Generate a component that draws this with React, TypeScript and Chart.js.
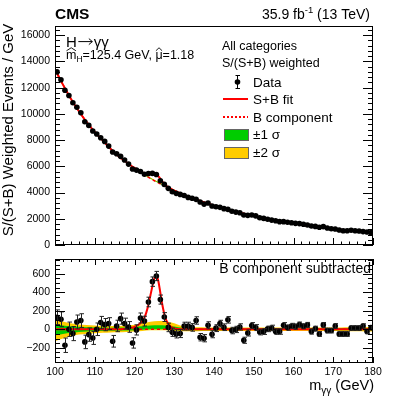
import React, { useEffect, useRef } from "react";
import { Chart, registerables } from "chart.js";
Chart.register(...registerables);

const FONT = '"Liberation Sans", Arial, Helvetica, sans-serif';
const RED = "#ff0000";
const GREEN = "#00cc00";
const YELLOW = "#ffcc00";

// ---------- data ----------
const massBins = [
  100.5, 101.5, 102.5, 103.5, 104.5, 105.5, 106.5, 107.5, 108.5, 109.5,
  110.5, 111.5, 112.5, 113.5, 114.5, 115.5, 116.5, 117.5, 118.5, 119.5,
  120.5, 121.5, 122.5, 123.5, 124.5, 125.5, 126.5, 127.5, 128.5, 129.5,
  130.5, 131.5, 132.5, 133.5, 134.5, 135.5, 136.5, 137.5, 138.5, 139.5,
  140.5, 141.5, 142.5, 143.5, 144.5, 145.5, 146.5, 147.5, 148.5, 149.5,
  150.5, 151.5, 152.5, 153.5, 154.5, 155.5, 156.5, 157.5, 158.5, 159.5,
  160.5, 161.5, 162.5, 163.5, 164.5, 165.5, 166.5, 167.5, 168.5, 169.5,
  170.5, 171.5, 172.5, 173.5, 174.5, 175.5, 176.5, 177.5, 178.5, 179.5,
];

const weightedEvents = [
  13200, 12600, 11800, 11400, 10850, 10500, 10080, 9400, 9120, 8690,
  8460, 8180, 7900, 7540, 7090, 6960, 6760, 6480, 6170, 5790,
  5710, 5600, 5390, 5450, 5460, 5380, 4900, 4620, 4320, 4060,
  3940, 3860, 3780, 3630, 3560, 3480, 3280, 3120, 3200, 2970,
  2920, 2870, 2770, 2720, 2570, 2510, 2460, 2290, 2260, 2290,
  2220, 2080, 2030, 1960, 1900, 1850, 1780, 1780, 1730, 1700,
  1650, 1630, 1580, 1520, 1450, 1420, 1350, 1400, 1300, 1240,
  1220, 1140, 1090, 1090, 1120, 1090, 1070, 1020, 990, 940,
];

const bkgSubtracted = [
  130, 108, -173, 0, -47, 79, 94, -137, -58, -94,
  0, 72, 50, 61, -130, 36, 115, 61, 25, -148,
  -7, 122, 88, 295, 515, 576, 321, 132, 20, -32,
  -50, -47, 34, 34, 20, 95, -86, -97, 43, -54,
  12, 61, 22, 102, -14, -2, 25, -119, -40, 40,
  18, -30, -25, 4, 14, -25, -25, 43, 18, 36,
  29, 50, 32, 47, -25, 7, -51, 47, -14, -14,
  36, -51, -51, -51, 14, 14, 14, 36, -25, 18,
];

const statErrors = [
  80, 80, 78, 78, 76, 75, 74, 73, 72, 70,
  68, 67, 66, 64, 63, 62, 60, 59, 58, 56,
  55, 54, 53, 52, 51, 50, 49, 48, 46, 45,
  44, 43, 42, 42, 41, 40, 40, 39, 38, 38,
  37, 36, 36, 35, 35, 34, 34, 33, 33, 32,
  32, 31, 31, 30, 30, 30, 29, 29, 29, 28,
  28, 28, 27, 27, 27, 26, 26, 26, 26, 25,
  25, 25, 25, 24, 24, 24, 24, 23, 23, 23,
];

const fitX = [
  100, 102, 104, 106, 108, 110, 112, 114, 116, 117, 118, 119, 120, 121, 122,
  122.5, 123, 123.5, 124, 124.5, 125, 125.5, 126, 126.5, 127, 127.5, 128,
  129, 130, 131, 132, 134, 136, 138, 140, 142, 144, 146, 148, 150, 152, 154,
  156, 158, 160, 162, 164, 166, 168, 170, 172, 174, 176, 178, 180,
];
const bkgFit = [
  13400, 12230, 11150, 10200, 9360, 8620, 7980, 7330, 6760, 6530, 6300, 6070, 5850, 5640, 5440,
  5345, 5250, 5160, 5070, 4985, 4900, 4815, 4735, 4655, 4575, 4500, 4425,
  4280, 4140, 4010, 3880, 3640, 3410, 3200, 3000, 2820, 2650, 2490, 2350, 2210, 2080, 1930,
  1840, 1735, 1645, 1565, 1480, 1410, 1330, 1240, 1170, 1120, 1065, 1005, 945,
];

const signalX = [
  116, 117, 118, 119, 120, 121, 122, 122.5, 123, 123.5, 124, 124.5, 125, 125.5,
  126, 126.5, 127, 127.5, 128, 129, 130, 131, 132,
];
const signalFit = [
  0, 2, 5, 12, 25, 48, 90, 125, 185, 265, 365, 465, 550, 585,
  520, 395, 265, 165, 95, 32, 10, 3, 0,
];

const bandX = [
  100, 102, 104, 106, 108, 110, 112, 114, 116, 118, 120, 122, 124, 126, 128, 130, 132,
  134, 136, 138, 140, 142, 144, 146, 148, 150, 152, 154, 156, 158, 160, 162, 164, 166,
  168, 170, 172, 174, 176, 178, 180,
];
const band2Up = [
  110, 85, 65, 52, 45, 40, 37, 35, 36, 40, 50, 65, 80, 88, 85, 65, 35,
  25, 22, 20, 20, 19, 18, 18, 18, 18, 18, 18, 18, 18, 18, 18, 18, 18,
  19, 19, 20, 21, 22, 23, 25,
];
const band2Down = [
  -130, -100, -75, -58, -48, -42, -38, -35, -33, -30, -25, -18, -12, -10, -12, -18, -22,
  -22, -21, -20, -20, -19, -18, -18, -18, -18, -18, -18, -18, -18, -18, -18, -18, -18,
  -19, -19, -20, -21, -22, -23, -25,
];
const band1Up = [
  55, 42, 32, 26, 22, 20, 18, 17, 18, 20, 26, 33, 40, 44, 42, 30, 17,
  12, 11, 10, 10, 10, 9, 9, 9, 9, 9, 9, 9, 9, 9, 9, 9, 9,
  10, 10, 10, 11, 11, 12, 13,
];
const band1Down = [
  -65, -50, -38, -29, -24, -21, -19, -17, -16, -14, -10, -5, -1, 0, -2, -8, -11,
  -11, -10, -10, -10, -10, -9, -9, -9, -9, -9, -9, -9, -9, -9, -9, -9, -9,
  -10, -10, -10, -11, -11, -12, -13,
];

const topYTicks = [0, 2000, 4000, 6000, 8000, 10000, 12000, 14000, 16000];
const bottomYTicks = [-200, 0, 200, 400, 600];
const xTicks = [100, 110, 120, 130, 140, 150, 160, 170, 180];

// ---------- helpers ----------
const signalAt = (x: number) => {
  const i = signalX.indexOf(x);
  return i >= 0 ? signalFit[i] : 0;
};
const bkgAt = (x: number) => bkgFit[fitX.indexOf(x)];

type Part = { t: string; size: number; dy?: number; bold?: boolean; hat?: boolean; arrow?: number };
function drawRich(ctx: CanvasRenderingContext2D, parts: Part[], x: number, y: number, align: "left" | "right") {
  const widths = parts.map((p) => {
    if (p.arrow) return p.arrow;
    ctx.font = `${p.bold ? "bold " : ""}${p.size}px ${FONT}`;
    return ctx.measureText(p.t).width;
  });
  const total = widths.reduce((a, b) => a + b, 0);
  let cx = align === "right" ? x - total : x;
  ctx.textAlign = "left";
  ctx.textBaseline = "alphabetic";
  parts.forEach((p, i) => {
    const yy = y + (p.dy || 0);
    if (p.arrow) {
      const ay = yy - p.size * 0.36;
      ctx.save();
      ctx.strokeStyle = "#000";
      ctx.lineWidth = 1;
      ctx.beginPath();
      ctx.moveTo(cx + 1.5, ay);
      ctx.lineTo(cx + p.arrow - 1.5, ay);
      ctx.moveTo(cx + p.arrow - 5, ay - 3);
      ctx.lineTo(cx + p.arrow - 1.5, ay);
      ctx.lineTo(cx + p.arrow - 5, ay + 3);
      ctx.stroke();
      ctx.restore();
      cx += widths[i];
      return;
    }
    ctx.font = `${p.bold ? "bold " : ""}${p.size}px ${FONT}`;
    ctx.fillText(p.t, cx, yy);
    if (p.hat) {
      const w = widths[i];
      ctx.save();
      ctx.lineWidth = 0.9;
      ctx.strokeStyle = "#000";
      ctx.beginPath();
      ctx.moveTo(cx + 0.5, yy - p.size * 0.66);
      ctx.lineTo(cx + w / 2, yy - p.size * 0.9);
      ctx.lineTo(cx + w - 0.5, yy - p.size * 0.66);
      ctx.stroke();
      ctx.restore();
    }
    cx += widths[i];
  });
}

type FrameCfg = {
  yMinor: number; yMajor: number; yMajLen: number; yMinLen: number;
  xMinor: number; xMajor: number; xMajLen: number; xMinLen: number; topTicks: boolean;
};
function framePlugin(cfg: FrameCfg) {
  return {
    id: "frameTicks",
    afterDraw(chart: any) {
      const { ctx, chartArea: a, scales } = chart;
      const xs = scales.x;
      const ys = scales.y;
      ctx.save();
      ctx.strokeStyle = "#000";
      ctx.lineWidth = 1;
      ctx.strokeRect(a.left + 0.5, a.top + 0.5, a.right - a.left - 1, a.bottom - a.top - 1);
      ctx.beginPath();
      const nx = Math.round((xs.max - xs.min) / cfg.xMinor);
      for (let k = 0; k <= nx; k++) {
        const v = xs.min + k * cfg.xMinor;
        const major = Math.abs(v / cfg.xMajor - Math.round(v / cfg.xMajor)) < 1e-6;
        const px = Math.round(xs.getPixelForValue(v)) + 0.5;
        const L = major ? cfg.xMajLen : cfg.xMinLen;
        ctx.moveTo(px, a.bottom);
        ctx.lineTo(px, a.bottom - L);
        if (cfg.topTicks) {
          ctx.moveTo(px, a.top);
          ctx.lineTo(px, a.top + L);
        }
      }
      const start = Math.ceil(ys.min / cfg.yMinor - 1e-9);
      const end = Math.floor(ys.max / cfg.yMinor + 1e-9);
      for (let k = start; k <= end; k++) {
        const v = k * cfg.yMinor;
        const major = Math.abs(v / cfg.yMajor - Math.round(v / cfg.yMajor)) < 1e-6;
        const py = Math.round(ys.getPixelForValue(v)) + 0.5;
        const L = major ? cfg.yMajLen : cfg.yMinLen;
        ctx.moveTo(a.left, py);
        ctx.lineTo(a.left + L, py);
        ctx.moveTo(a.right, py);
        ctx.lineTo(a.right - L, py);
      }
      ctx.stroke();
      ctx.restore();
    },
  };
}

function errorBarPlugin(values: number[], errors: number[]) {
  return {
    id: "errorBars",
    afterDatasetsDraw(chart: any) {
      const { ctx, chartArea: a, scales } = chart;
      ctx.save();
      ctx.beginPath();
      ctx.rect(a.left, a.top, a.right - a.left, a.bottom - a.top);
      ctx.clip();
      ctx.strokeStyle = "#222";
      ctx.lineWidth = 1;
      ctx.beginPath();
      massBins.forEach((m, i) => {
        const px = Math.round(scales.x.getPixelForValue(m)) + 0.5;
        const y1 = scales.y.getPixelForValue(values[i] - errors[i]);
        const y2 = scales.y.getPixelForValue(values[i] + errors[i]);
        ctx.moveTo(px, y1);
        ctx.lineTo(px, y2);
        ctx.moveTo(px - 2, y1);
        ctx.lineTo(px + 2.5, y1);
        ctx.moveTo(px - 2, y2);
        ctx.lineTo(px + 2.5, y2);
      });
      ctx.stroke();
      ctx.restore();
    },
  };
}

const topTextPlugin = {
  id: "topText",
  afterDraw(chart: any) {
    const ctx: CanvasRenderingContext2D = chart.ctx;
    ctx.save();
    ctx.fillStyle = "#000";
    drawRich(ctx, [{ t: "CMS", size: 15.5, bold: true }], 55, 19, "left");
    drawRich(
      ctx,
      [
        { t: "35.9 fb", size: 14 },
        { t: "-1", size: 9.5, dy: -6 },
        { t: " (13 TeV)", size: 14 },
      ],
      370,
      19,
      "right"
    );
    ctx.save();
    ctx.translate(13, 130);
    ctx.rotate(-Math.PI / 2);
    ctx.font = `15px ${FONT}`;
    ctx.textAlign = "center";
    ctx.textBaseline = "alphabetic";
    ctx.fillText("S/(S+B) Weighted Events / GeV", 0, 0);
    ctx.restore();
    drawRich(
      ctx,
      [
        { t: "H", size: 15 },
        { t: "", size: 15, arrow: 17 },
        { t: "\u03b3\u03b3", size: 15 },
      ],
      66,
      47,
      "left"
    );
    drawRich(
      ctx,
      [
        { t: "m", size: 12.5, hat: true },
        { t: "H", size: 8.5, dy: 3 },
        { t: "=125.4 GeV, ", size: 12.5 },
        { t: "\u03bc", size: 12.5, hat: true },
        { t: "=1.18", size: 12.5 },
      ],
      66,
      59,
      "left"
    );
    drawRich(ctx, [{ t: "All categories", size: 12.5 }], 222, 50, "left");
    drawRich(ctx, [{ t: "S/(S+B) weighted", size: 12.5 }], 222, 67, "left");
    const lx = 253;
    ctx.strokeStyle = "#000";
    ctx.lineWidth = 1;
    ctx.beginPath();
    ctx.moveTo(237.5, 75);
    ctx.lineTo(237.5, 89);
    ctx.moveTo(235.5, 75.5);
    ctx.lineTo(240, 75.5);
    ctx.moveTo(235.5, 88.5);
    ctx.lineTo(240, 88.5);
    ctx.stroke();
    ctx.beginPath();
    ctx.arc(237.5, 82, 2.8, 0, Math.PI * 2);
    ctx.fill();
    drawRich(ctx, [{ t: "Data", size: 13.5 }], lx, 87, "left");
    ctx.strokeStyle = RED;
    ctx.lineWidth = 2;
    ctx.beginPath();
    ctx.moveTo(223, 99);
    ctx.lineTo(248, 99);
    ctx.stroke();
    drawRich(ctx, [{ t: "S+B fit", size: 13.5 }], lx, 104, "left");
    ctx.setLineDash([2, 2]);
    ctx.beginPath();
    ctx.moveTo(223, 117);
    ctx.lineTo(248, 117);
    ctx.stroke();
    ctx.setLineDash([]);
    drawRich(ctx, [{ t: "B component", size: 13.5 }], lx, 122, "left");
    ctx.lineWidth = 1;
    ctx.strokeStyle = "#666";
    ctx.fillStyle = GREEN;
    ctx.fillRect(224, 129, 25, 12);
    ctx.strokeRect(224.5, 129.5, 24, 11);
    ctx.fillStyle = YELLOW;
    ctx.fillRect(224, 147, 25, 12);
    ctx.strokeRect(224.5, 147.5, 24, 11);
    ctx.fillStyle = "#000";
    drawRich(ctx, [{ t: "\u00b11 \u03c3", size: 13.5 }], lx, 139, "left");
    drawRich(ctx, [{ t: "\u00b12 \u03c3", size: 13.5 }], lx, 157, "left");
    ctx.restore();
  },
};

const bottomTextPlugin = {
  id: "bottomText",
  afterDraw(chart: any) {
    const ctx: CanvasRenderingContext2D = chart.ctx;
    ctx.save();
    ctx.fillStyle = "#000";
    drawRich(ctx, [{ t: "B component subtracted", size: 14 }], 371, 43, "right");
    drawRich(
      ctx,
      [
        { t: "m", size: 14.5 },
        { t: "\u03b3\u03b3", size: 10, dy: 4 },
        { t: " (GeV)", size: 14.5 },
      ],
      374,
      160,
      "right"
    );
    ctx.restore();
  },
};

const lineDefaults = { pointRadius: 0, pointHoverRadius: 0, cubicInterpolationMode: "monotone" as const };

function topConfig(): any {
  const band = (arr: number[]) => bandX.map((x, i) => ({ x, y: bkgAt(x) + arr[i] }));
  return {
    type: "line",
    data: {
      datasets: [
        {
          label: "Data",
          data: massBins.map((x, i) => ({ x, y: weightedEvents[i] })),
          showLine: false, pointRadius: 2.8, pointHoverRadius: 2.8,
          pointBackgroundColor: "#000", pointBorderWidth: 0, order: 0,
        },
        {
          label: "S+B fit",
          data: fitX.map((x, i) => ({ x, y: bkgFit[i] + signalAt(x) })),
          borderColor: RED, borderWidth: 2, fill: false, order: 1, ...lineDefaults,
        },
        {
          label: "B component",
          data: fitX.map((x, i) => ({ x, y: bkgFit[i] })),
          borderColor: RED, borderWidth: 1.5, borderDash: [3, 3], fill: false, order: 2, ...lineDefaults,
        },
        { label: "+1s", data: band(band1Up), borderWidth: 0, borderColor: "rgba(0,0,0,0)", backgroundColor: GREEN, fill: "+1", order: 3, ...lineDefaults },
        { label: "-1s", data: band(band1Down), borderWidth: 0, borderColor: "rgba(0,0,0,0)", fill: false, order: 4, ...lineDefaults },
        { label: "+2s", data: band(band2Up), borderWidth: 0, borderColor: "rgba(0,0,0,0)", backgroundColor: YELLOW, fill: "+1", order: 5, ...lineDefaults },
        { label: "-2s", data: band(band2Down), borderWidth: 0, borderColor: "rgba(0,0,0,0)", fill: false, order: 6, ...lineDefaults },
      ],
    },
    options: {
      animation: false,
      responsive: false,
      devicePixelRatio: 1,
      events: [],
      layout: { padding: { top: 26, right: 42, left: 0, bottom: 0 }, autoPadding: false },
      plugins: { legend: { display: false }, tooltip: { enabled: false } },
      scales: {
        x: {
          type: "linear", min: 100, max: 180,
          grid: { display: false, drawTicks: false }, border: { display: false },
          ticks: { display: false },
          afterFit: (s: any) => { s.height = 15; },
        },
        y: {
          type: "linear", min: 0, max: 16700,
          grid: { display: false, drawTicks: false }, border: { display: false },
          ticks: { color: "#000", padding: 5, font: { family: FONT, size: 10.5 }, callback: (v: any) => String(v) },
          afterBuildTicks: (s: any) => { s.ticks = topYTicks.map((v) => ({ value: v })); },
          afterFit: (s: any) => { s.width = 55; },
        },
      },
    },
    plugins: [
      framePlugin({ yMinor: 400, yMajor: 2000, yMajLen: 10, yMinLen: 5, xMinor: 2, xMajor: 10, xMajLen: 7, xMinLen: 3.5, topTicks: false }),
      topTextPlugin,
    ],
  };
}

function bottomConfig(): any {
  const band = (arr: number[]) => bandX.map((x, i) => ({ x, y: arr[i] }));
  const sig = [{ x: 100, y: 0 }, ...signalX.map((x, i) => ({ x, y: signalFit[i] })), { x: 180, y: 0 }];
  return {
    type: "line",
    data: {
      datasets: [
        {
          label: "Data",
          data: massBins.map((x, i) => ({ x, y: bkgSubtracted[i] })),
          showLine: false, pointRadius: 2.8, pointHoverRadius: 2.8,
          pointBackgroundColor: "#000", pointBorderWidth: 0, order: 0,
        },
        { label: "S+B fit", data: sig, borderColor: RED, borderWidth: 2, fill: false, order: 1, ...lineDefaults },
        {
          label: "B component",
          data: [{ x: 100, y: 0 }, { x: 180, y: 0 }],
          borderColor: RED, borderWidth: 1.5, borderDash: [3, 3], fill: false, order: 2, ...lineDefaults,
        },
        { label: "+1s", data: band(band1Up), borderWidth: 0, borderColor: "rgba(0,0,0,0)", backgroundColor: GREEN, fill: "+1", order: 3, ...lineDefaults },
        { label: "-1s", data: band(band1Down), borderWidth: 0, borderColor: "rgba(0,0,0,0)", fill: false, order: 4, ...lineDefaults },
        { label: "+2s", data: band(band2Up), borderWidth: 0, borderColor: "rgba(0,0,0,0)", backgroundColor: YELLOW, fill: "+1", order: 5, ...lineDefaults },
        { label: "-2s", data: band(band2Down), borderWidth: 0, borderColor: "rgba(0,0,0,0)", fill: false, order: 6, ...lineDefaults },
      ],
    },
    options: {
      animation: false,
      responsive: false,
      devicePixelRatio: 1,
      events: [],
      layout: { padding: { top: 29, right: 42, left: 0, bottom: 0 }, autoPadding: false },
      plugins: { legend: { display: false }, tooltip: { enabled: false } },
      scales: {
        x: {
          type: "linear", min: 100, max: 180,
          grid: { display: false, drawTicks: false }, border: { display: false },
          ticks: { color: "#000", padding: 3, maxRotation: 0, font: { family: FONT, size: 10.5 }, callback: (v: any) => String(v) },
          afterBuildTicks: (s: any) => { s.ticks = xTicks.map((v) => ({ value: v })); },
          afterFit: (s: any) => { s.height = 36; },
        },
        y: {
          type: "linear", min: -365, max: 760,
          grid: { display: false, drawTicks: false }, border: { display: false },
          ticks: {
            color: "#000", padding: 5, font: { family: FONT, size: 10.5 },
            callback: (v: any) => (v < 0 ? "\u2212" + Math.abs(v) : String(v)),
          },
          afterBuildTicks: (s: any) => { s.ticks = bottomYTicks.map((v) => ({ value: v })); },
          afterFit: (s: any) => { s.width = 55; },
        },
      },
    },
    plugins: [
      framePlugin({ yMinor: 50, yMajor: 200, yMajLen: 10, yMinLen: 5, xMinor: 2, xMajor: 10, xMajLen: 6, xMinLen: 3, topTicks: true }),
      errorBarPlugin(bkgSubtracted, statErrors),
      bottomTextPlugin,
    ],
  };
}

export default function App() {
  const topRef = useRef<HTMLCanvasElement>(null);
  const botRef = useRef<HTMLCanvasElement>(null);
  useEffect(() => {
    const c1 = new Chart(topRef.current as HTMLCanvasElement, topConfig());
    const c2 = new Chart(botRef.current as HTMLCanvasElement, bottomConfig());
    return () => {
      c1.destroy();
      c2.destroy();
    };
  }, []);
  return (
    <div style={{ position: "absolute", left: 0, top: 0, width: 415, height: 399, background: "#fff" }}>
      <canvas ref={topRef} width={415} height={260} style={{ position: "absolute", left: 0, top: 0, width: 415, height: 260 }} />
      <canvas ref={botRef} width={415} height={169} style={{ position: "absolute", left: 0, top: 230, width: 415, height: 169 }} />
    </div>
  );
}
